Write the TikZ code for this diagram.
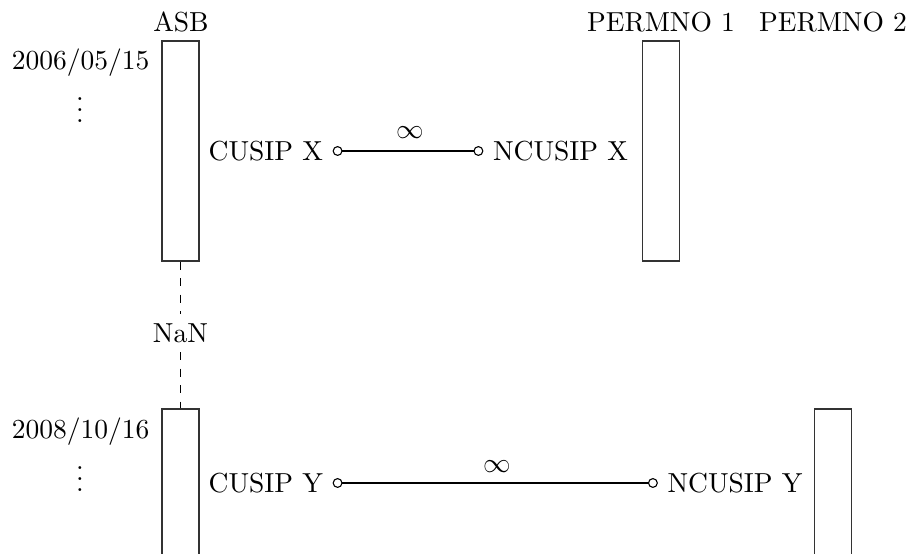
\documentclass[tikz,border=0pt]{standalone}
\usetikzlibrary{arrows.meta}
\begin{document}
\begin{tikzpicture}[x=0.3636pt,y=-0.3636pt,
  bar/.style={draw=black!80, line width=0.4pt, minimum width=13.45pt, minimum height=80pt, inner sep=0pt},
  lbl/.style={inner sep=3.33pt},
  link/.style={line width=0.4pt, {Circle[open,length=3.6pt]}-{Circle[open,length=3.6pt]}},
  gap/.style={dashed, line width=0.4pt}]
\useasboundingbox (0,0) rectangle (912,554);
\clip (0,0) rectangle (912,554);
% headers
\node[lbl] (asb) at (181,22) {ASB};
\node[lbl] (p1) at (661,22) {PERMNO 1};
\node[lbl] (p2) at (833,22) {PERMNO 2};
% top block
\node[bar] (r1) at (180.5,151) {};
\node[bar] (r2) at (661,151) {};
\node[lbl, anchor=east] (d1) at (159,63) {2006/05/15};
\node (v1) at (80,102) {$\vdots$};
\node[lbl, anchor=west] (cx) at (199,151) {CUSIP X};
\node[lbl] (nx) at (560.5,151) {NCUSIP X};
\draw[link] (cx) -- (nx);
\node (i1) at (410,133) {$\infty$};
% gap
\node[lbl] (nan) at (180.5,333) {NaN};
% bottom block
\node[bar] (r3) at (180.5,519) {};
\node[bar] (r4) at (833,519) {};
\draw[gap] (r1.south) -- (nan.north);
\draw[gap] (nan.south) -- (r3.north);
\node[lbl, anchor=east] (d2) at (159,432) {2008/10/16};
\node (v2) at (80,471) {$\vdots$};
\node[lbl, anchor=west] (cy) at (199,483) {CUSIP Y};
\node[lbl] (ny) at (735,483) {NCUSIP Y};
\draw[link] (cy) -- (ny);
\node (i2) at (497,467) {$\infty$};
\end{tikzpicture}
\end{document}
